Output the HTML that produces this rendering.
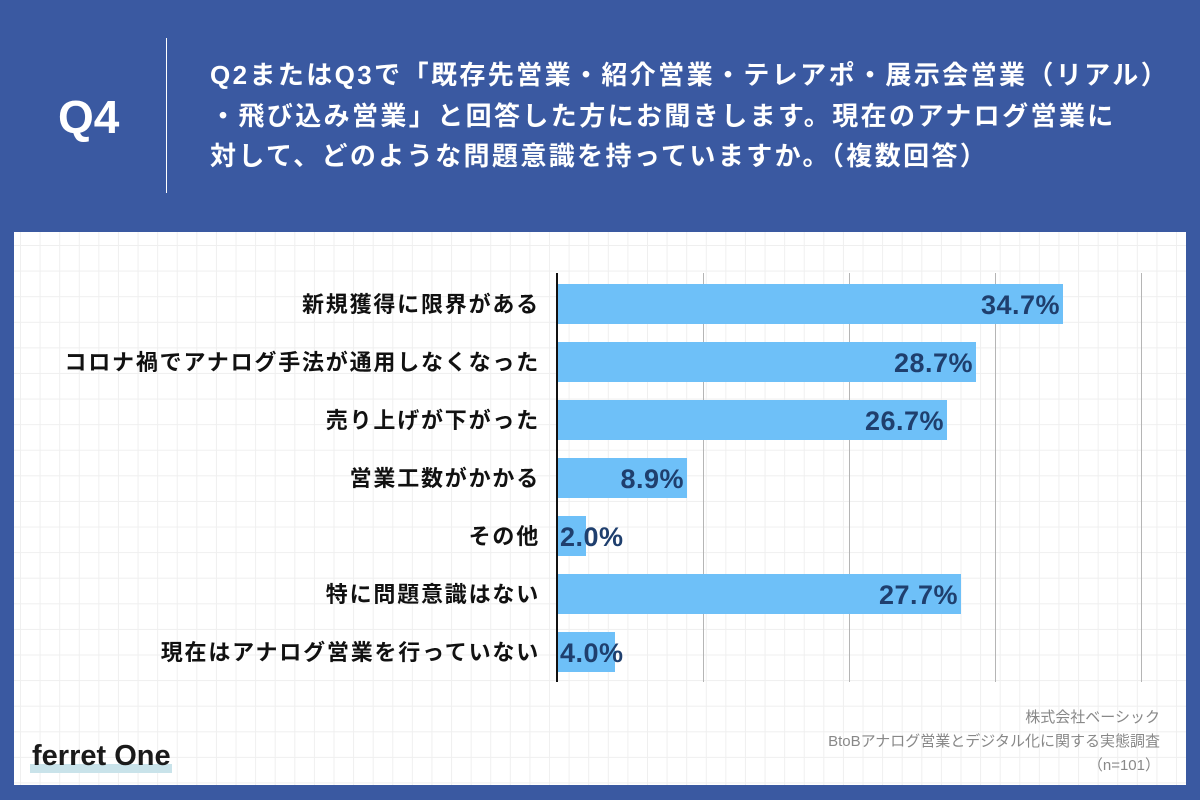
<!DOCTYPE html>
<html><head><meta charset="utf-8"><style>
body{margin:0;width:1200px;height:800px;background:#3a59a1;position:relative;overflow:hidden;font-family:"Liberation Sans","Noto Sans CJK JP",sans-serif}
.q{position:absolute;left:58px;top:90px;color:#fff;font-size:46px;font-weight:bold}
.div{position:absolute;left:166px;top:38px;width:1px;height:155px;background:#fff}
.t{position:absolute;left:210px;top:55px;color:#fff;font-size:26px;font-weight:bold;line-height:40.5px;white-space:nowrap;letter-spacing:2.4px}
.panel{position:absolute;left:14px;top:232px;width:1172px;height:553px;background-color:#fff;
background-image:linear-gradient(#efefef 1px,transparent 1px),linear-gradient(90deg,#efefef 1px,transparent 1px);background-size:19.6px 25.6px;background-position:6px 13px}
.lab{position:absolute;right:660px;font-size:22px;font-weight:bold;color:#111;white-space:nowrap;line-height:24px;letter-spacing:1.8px}
.bar{position:absolute;left:557px;height:40px;background:#6ec0f8}
.val{position:absolute;font-size:27px;font-weight:bold;color:#1f3f6e;line-height:26px;letter-spacing:0.5px}
.g{position:absolute;top:273px;height:409px;width:1px;background:#b5b5b5}
.src{position:absolute;right:40px;top:706px;text-align:right;color:#888;font-size:15px;line-height:24px}
.hl{position:absolute;left:30px;top:764px;width:142px;height:9px;background:#c9e3ea}
.logo{position:absolute;left:32px;top:740px;font-size:29px;font-weight:bold;color:#1a1a1a}
</style></head><body>
<div class="q">Q4</div><div class="div"></div>
<div class="t">Q2またはQ3で「既存先営業・紹介営業・テレアポ・展示会営業（リアル）<br>・飛び込み営業」と回答した方にお聞きします。現在のアナログ営業に<br>対して、どのような問題意識を持っていますか。（複数回答）</div>
<div class="panel"></div>
<div class="g" style="left:703px"></div><div class="g" style="left:849px"></div><div class="g" style="left:995px"></div><div class="g" style="left:1141px"></div>
<div class="bar" style="top:284px;width:506px"></div>
<div class="bar" style="top:342px;width:419px"></div>
<div class="bar" style="top:400px;width:390px"></div>
<div class="bar" style="top:458px;width:130px"></div>
<div class="bar" style="top:516px;width:29px"></div>
<div class="bar" style="top:574px;width:404px"></div>
<div class="bar" style="top:632px;width:58px"></div>
<div style="position:absolute;left:556px;top:273px;width:2px;height:409px;background:#111"></div>
<div class="lab" style="top:293px">新規獲得に限界がある</div>
<div class="lab" style="top:351px">コロナ禍でアナログ手法が通用しなくなった</div>
<div class="lab" style="top:409px">売り上げが下がった</div>
<div class="lab" style="top:467px">営業工数がかかる</div>
<div class="lab" style="top:525px">その他</div>
<div class="lab" style="top:583px">特に問題意識はない</div>
<div class="lab" style="top:641px">現在はアナログ営業を行っていない</div>
<div class="val" style="top:292px;right:140px">34.7%</div>
<div class="val" style="top:350px;right:227px">28.7%</div>
<div class="val" style="top:408px;right:256px">26.7%</div>
<div class="val" style="top:466px;right:516px">8.9%</div>
<div class="val" style="top:524px;left:560px">2.0%</div>
<div class="val" style="top:582px;right:242px">27.7%</div>
<div class="val" style="top:640px;left:560px">4.0%</div>
<div class="src">株式会社ベーシック<br>BtoBアナログ営業とデジタル化に関する実態調査<br>（n=101）</div>
<div class="hl"></div>
<div class="logo">ferret One</div>
</body></html>
